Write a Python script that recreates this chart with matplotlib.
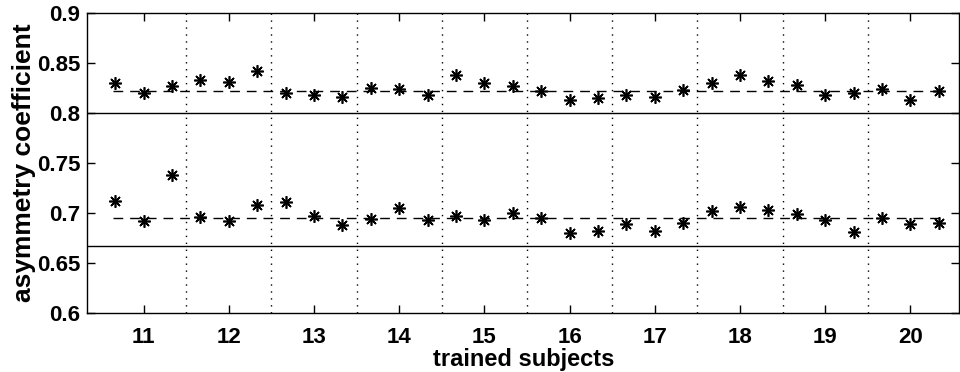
import numpy as np
import matplotlib
matplotlib.use("Agg")
import matplotlib.pyplot as plt

plt.rcParams['font.family'] = ['Liberation Sans', 'DejaVu Sans']
plt.rcParams['font.weight'] = 'bold'

subjects = [11, 12, 13, 14, 15, 16, 17, 18, 19, 20]

# three measurements per subject, upper cluster
upper = [
    [0.830, 0.820, 0.827],
    [0.833, 0.831, 0.842],
    [0.820, 0.818, 0.816],
    [0.825, 0.824, 0.818],
    [0.838, 0.830, 0.827],
    [0.822, 0.813, 0.815],
    [0.818, 0.816, 0.823],
    [0.830, 0.838, 0.832],
    [0.828, 0.818, 0.820],
    [0.824, 0.813, 0.822],
]
# lower cluster
lower = [
    [0.712, 0.692, 0.738],
    [0.696, 0.692, 0.708],
    [0.711, 0.697, 0.688],
    [0.694, 0.705, 0.693],
    [0.697, 0.693, 0.700],
    [0.695, 0.680, 0.682],
    [0.689, 0.682, 0.690],
    [0.702, 0.706, 0.703],
    [0.699, 0.693, 0.681],
    [0.695, 0.689, 0.690],
]
upper_mean = 0.822
lower_mean = 0.695
upper_ref = 0.8
lower_ref = 2 / 3

offsets = np.array([-1 / 3, 0, 1 / 3])

fig = plt.figure(figsize=(9.6, 3.72), dpi=100)
ax = fig.add_axes([0.091, 0.159, 0.908, 0.805])

# asterisk markers: + and x drawn on top of each other
for s, u, l in zip(subjects, upper, lower):
    xs = s + offsets
    for ys in (u, l):
        ax.plot(xs, ys, linestyle='none', marker=(8, 2, 0), color='black',
                markersize=9, markeredgewidth=1.2)

x0 = subjects[0] + offsets[0]
x1 = subjects[-1] + offsets[-1]
ax.plot([x0 - 0.03, x1 + 0.03], [upper_mean, upper_mean], color='black',
        lw=1, linestyle=(0, (7, 5)))
ax.plot([x0 - 0.03, x1 + 0.03], [lower_mean, lower_mean], color='black',
        lw=1, linestyle=(0, (7, 5)))

ax.axhline(upper_ref, color='black', lw=1)
ax.axhline(lower_ref, color='black', lw=1)

for s in subjects[:-1]:
    ax.axvline(s + 0.5, color='black', lw=1, linestyle=(0, (1, 4)))

ax.set_xlim(10.34, 20.57)
ax.set_ylim(0.6, 0.9)
ax.set_xticks(subjects)
ax.set_xticklabels([str(s) for s in subjects])
ax.set_yticks([0.6, 0.65, 0.7, 0.75, 0.8, 0.85, 0.9])
ax.set_yticklabels(['0.6', '0.65', '0.7', '0.75', '0.8', '0.85', '0.9'])
ax.tick_params(direction='in', length=6, width=1, top=True, right=True,
               labelsize=16)
ax.tick_params(axis='y', pad=5)
ax.tick_params(axis='x', pad=10)
for lab in ax.get_xticklabels() + ax.get_yticklabels():
    lab.set_fontweight('bold')
for sp in ax.spines.values():
    sp.set_linewidth(1)

ax.set_xlabel('trained subjects', fontsize=17, fontweight='bold', labelpad=0)
ax.set_ylabel('asymmetry coefficient', fontsize=19, fontweight='bold',
              labelpad=1)

fig.savefig('out.png', dpi=100)
